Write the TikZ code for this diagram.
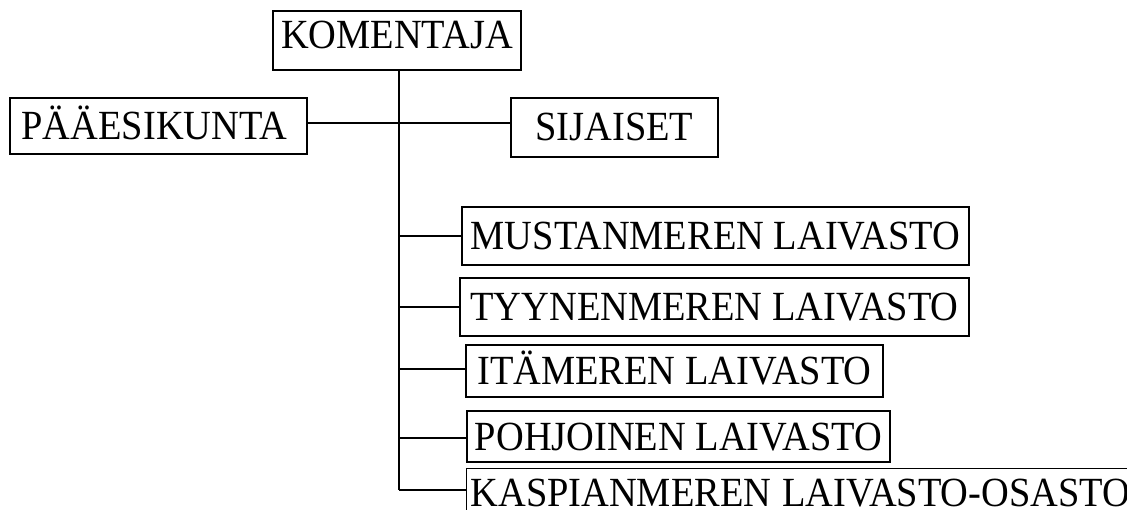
\documentclass[tikz,border=0pt]{standalone}
\usepackage{fontspec}
\setmainfont{Liberation Serif}
\newcommand{\tall}[1]{\scalebox{1}[1.08]{#1}}
\begin{document}
\begin{tikzpicture}[x=1pt,y=-1pt,
  box/.style={draw, line width=1.1pt, inner sep=0pt, text height=27pt, text depth=0pt,
    font=\fontsize{38.4}{40}\selectfont},
  conn/.style={line width=1.1pt}]
\useasboundingbox (0,0) rectangle (1127,510);
\node[box, minimum width=248, minimum height=59, text depth=10pt] (kom) at (397,40.5) {\tall{KOMENTAJA}};
\node[box, minimum width=297, minimum height=56] (paa) at (158.5,126) {\hspace{-8pt}\tall{PÄÄESIKUNTA}};
\node[box, minimum width=207, minimum height=59] (sij) at (614.5,127.5) {\tall{SIJAISET}};
\node[box, minimum width=507, minimum height=58] (must) at (715.5,236) {\tall{MUSTANMEREN LAIVASTO}};
\node[box, minimum width=509, minimum height=58] (tyy) at (714.5,307) {\tall{TYYNENMEREN LAIVASTO}};
\node[box, minimum width=417, minimum height=52] (ita) at (674.5,371) {\tall{ITÄMEREN LAIVASTO}};
\node[box, minimum width=423, minimum height=51] (poh) at (678.5,436.5) {\tall{POHJOINEN LAIVASTO}};
\node[box, anchor=north west, minimum height=50, text width=690pt, align=left, inner xsep=4pt] (kasp) at (466,467.5) {\tall{KASPIANMEREN\hspace{11pt}LAIVASTO-OSASTO}};
\coordinate (top) at (399,70);
\coordinate (bot) at (399,490);
\draw[conn] (top) -- (bot);
\draw[conn] ([yshift=3pt]paa.east) -- ([yshift=3pt]paa.east -| sij.west);
\draw[conn] (must.west -| top) -- (must.west);
\draw[conn] (tyy.west -| top) -- (tyy.west);
\draw[conn] ([yshift=2pt]ita.west -| top) -- ([yshift=2pt]ita.west);
\draw[conn] ([yshift=-1.5pt]poh.west -| top) -- ([yshift=-1.5pt]poh.west);
\draw[conn] (bot) -- (bot -| kasp.west);
\end{tikzpicture}
\end{document}
